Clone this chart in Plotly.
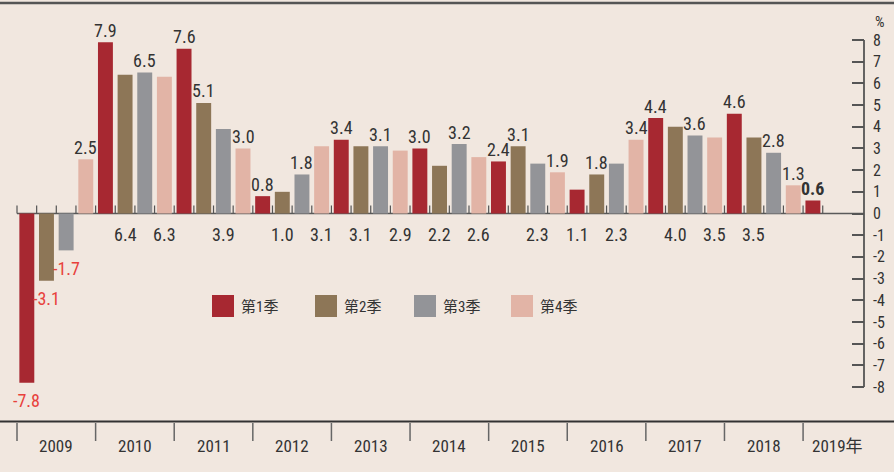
import plotly.graph_objects as go

# ---------------- data ----------------
years = ["2009", "2010", "2011", "2012", "2013", "2014", "2015", "2016", "2017", "2018", "2019年"]
quarters = ["第1季", "第2季", "第3季", "第4季"]
q1 = [-7.8, 7.9, 7.6, 0.8, 3.4, 3.0, 2.4, 1.1, 4.4, 4.6, 0.6]
q2 = [-3.1, 6.4, 5.1, 1.0, 3.1, 2.2, 3.1, 1.8, 4.0, 3.5]
q3 = [-1.7, 6.5, 3.9, 1.8, 3.1, 3.2, 2.3, 2.3, 3.6, 2.8]
q4 = [2.5, 6.3, 3.0, 3.1, 2.9, 2.6, 1.9, 3.4, 3.5, 1.3]
y_ticks = list(range(-8, 9))

# label placement (True = label drawn under the zero line)
below_q1 = [False, False, False, False, False, False, False, True, False, False, False]
below_q2 = [False, True, False, True, True, True, False, False, True, True]
below_q3 = [False, False, True, False, False, False, True, True, False, False]
below_q4 = [False, True, False, True, True, True, False, False, True, False]

series = [q1, q2, q3, q4]
belows = [below_q1, below_q2, below_q3, below_q4]
colors = ["#A72831", "#8D7657", "#939498", "#E2B4A6"]

# ---------------- geometry helpers ----------------
W, H = 894, 472
PLOT_W = 864


def px_x(p):
    return p / PLOT_W


def px_y(p):
    return 1 - p / H


NUM_FONT = "Roboto Condensed, Noto Sans CJK SC, sans-serif"
CJK_FONT = "Roboto Condensed, Noto Sans CJK SC, sans-serif"
TXT = "#333333"

fig = go.Figure()
annotations = []
shapes = []

for qi, (vals, blw, col, name) in enumerate(zip(series, belows, colors, quarters)):
    xs = [yi * 4 + qi for yi in range(len(vals))]
    fig.add_trace(go.Bar(x=xs, y=vals, name=name, marker=dict(color=col, line=dict(width=0)),
                         width=0.76, showlegend=False, hoverinfo="x+y"))
    for x, v, b in zip(xs, vals, blw):
        bold = (qi == 0 and x == xs[-1] and len(vals) == len(years))
        txt = f"{v:.1f}"
        if bold:
            txt = f"<b>{txt}</b>"
        if v < 0:
            annotations.append(dict(x=x, y=v, xref="x", yref="y", text=txt, showarrow=False,
                                    yanchor="middle", yshift=-18,
                                    font=dict(family=NUM_FONT, size=18, color="#E8413C")))
        elif b:
            annotations.append(dict(x=x, y=0, xref="x", yref="y", text=txt, showarrow=False,
                                    yanchor="middle", yshift=-21,
                                    font=dict(family=NUM_FONT, size=18, color=TXT)))
        else:
            annotations.append(dict(x=x, y=v, xref="x", yref="y", text=txt, showarrow=False,
                                    yanchor="middle", yshift=12,
                                    font=dict(family=NUM_FONT, size=18, color=TXT)))

n_slots = len(q1) + len(q2) + len(q3) + len(q4)

# quarter separator ticks on zero line
for i in range(n_slots + 1):
    shapes.append(dict(type="line", xref="x", yref="y", x0=i - 0.5, x1=i - 0.5,
                       y0=0, y1=0.37, line=dict(color="#555555", width=1.2), layer="above"))

# zero line
shapes.append(dict(type="line", xref="x", yref="y", x0=-0.5, x1=42.6, y0=0, y1=0,
                   line=dict(color="#5a5a5a", width=1.5), layer="below"))

# right axis line
shapes.append(dict(type="line", xref="paper", yref="y", x0=1, x1=1, y0=y_ticks[0], y1=y_ticks[-1],
                   line=dict(color="#555555", width=1.8)))

# top & bottom frame lines
shapes.append(dict(type="line", xref="paper", yref="paper", x0=0, x1=px_x(W), y0=px_y(3), y1=px_y(3),
                   line=dict(color="#555555", width=2.5)))
shapes.append(dict(type="line", xref="paper", yref="paper", x0=0, x1=px_x(W), y0=px_y(421.5), y1=px_y(421.5),
                   line=dict(color="#333333", width=2)))

# year separators and labels
for k, yr in enumerate(years):
    shapes.append(dict(type="line", xref="x", yref="paper", x0=k * 4 - 0.5, x1=k * 4 - 0.5,
                       y0=px_y(423), y1=px_y(441), line=dict(color="#666666", width=1.5)))
    cx = k * 4 + 1.5 if k < len(years) - 1 else k * 4 + 1.25
    annotations.append(dict(x=cx, y=px_y(446), xref="x", yref="paper", text=yr, showarrow=False,
                            yanchor="middle", xanchor="center",
                            font=dict(family=NUM_FONT, size=17, color=TXT)))

# legend (manual)
leg_x = [212, 315, 414, 511]
for lx, col, name in zip(leg_x, colors, quarters):
    shapes.append(dict(type="rect", xref="paper", yref="paper", x0=px_x(lx), x1=px_x(lx + 22),
                       y0=px_y(317), y1=px_y(295), fillcolor=col, line=dict(width=0)))
    annotations.append(dict(x=px_x(lx + 27), y=px_y(307), xref="paper", yref="paper", text=name,
                            showarrow=False, xanchor="left", yanchor="middle",
                            font=dict(family=CJK_FONT, size=15, color=TXT)))

# % unit
annotations.append(dict(x=px_x(880), y=px_y(22), xref="paper", yref="paper", text="%", showarrow=False,
                        xanchor="center", yanchor="middle",
                        font=dict(family=NUM_FONT, size=15, color=TXT)))

fig.update_layout(
    width=W, height=H,
    margin=dict(l=0, r=W - PLOT_W, t=0, b=0),
    paper_bgcolor="#F1E7DF", plot_bgcolor="#F1E7DF",
    barmode="overlay",
    xaxis=dict(range=[-1.365, 42.6], visible=False, fixedrange=True),
    yaxis=dict(range=[-11.918, 9.844], side="right", tickvals=y_ticks,
               ticktext=[str(t) for t in y_ticks], ticks="inside", ticklen=12,
               tickcolor="#555555", tickwidth=1.5, showgrid=False, zeroline=False,
               showline=False, ticklabelstandoff=8, fixedrange=True,
               tickfont=dict(family=NUM_FONT, size=16, color=TXT)),
    shapes=shapes, annotations=annotations, showlegend=False,
)

fig.write_html("out.html", config={"displayModeBar": False},
               post_script="document.body.style.margin='0';")
